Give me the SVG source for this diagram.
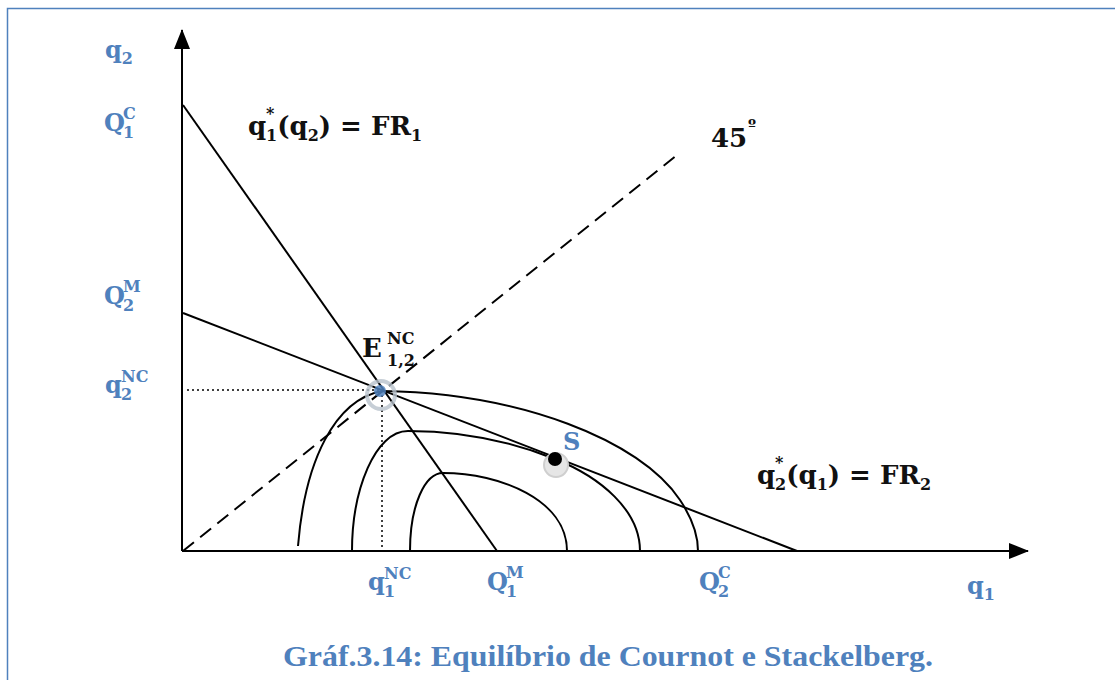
<svg xmlns="http://www.w3.org/2000/svg" width="1115" height="680" viewBox="0 0 1115 680">
<defs>
<style>
.lbl{font-family:"DejaVu Serif","Liberation Serif",serif;font-weight:bold;fill:#4F81BD;font-size:24px}
.blk{font-family:"DejaVu Serif","Liberation Serif",serif;font-weight:bold;fill:#111;font-size:26px}
.sm{font-size:16px}
.ln{stroke:#000;stroke-width:2;fill:none}
.cv{stroke:#000;stroke-width:2;fill:none}
.dot{stroke:#000;stroke-width:1.5;stroke-dasharray:2 3;fill:none}
</style>
<marker id="ah2" viewBox="0 0 20 20" refX="19" refY="10" markerWidth="20" markerHeight="20" markerUnits="userSpaceOnUse" orient="auto">
<path d="M0,2 L20,10 L0,18 z" fill="#000"/>
</marker>
</defs>
<rect width="1115" height="680" fill="#fff"/>
<path d="M7.5,680 V8.5 H1115" stroke="#4F81BD" stroke-width="1.5" fill="none"/>

<g id="connectors">
<line id="axis-y" class="ln" x1="182" y1="551" x2="182" y2="30" marker-end="url(#ah2)" stroke-width="2.5"/>
<line id="axis-x" class="ln" x1="182" y1="551" x2="1028" y2="551" marker-end="url(#ah2)" stroke-width="2.5"/>
<line id="fr1" class="ln" x1="183" y1="105" x2="497" y2="551"/>
<line id="fr2" class="ln" x1="183" y1="313" x2="797" y2="551"/>
<line id="diag45" class="ln" x1="183" y1="551" x2="677" y2="155" stroke-dasharray="14 8"/>
<polyline id="guides" class="dot" points="187,390 382,390 382,551"/>
<path id="iso1" class="cv" d="M298,546 C305,460 335,400 382,391 C520,393 640,440 680,500 C692,518 698,535 698,551"/>
<path id="iso2" class="cv" d="M352,551 C352,490 375,431 408,431 C470,431 520,445 555,459 C600,477 640,510 640,551"/>
<path id="iso3" class="cv" d="M410,551 C410,505 425,473 443,473 C500,473 567,500 567,551"/>
</g>

<g id="node-E">
<circle cx="381" cy="395" r="14" fill="none" stroke="#b8c2cc" stroke-width="4" opacity="0.8"/>
<circle cx="380" cy="391" r="6" fill="#4F81BD" opacity="0.85"/>
<text class="blk" x="362" y="357">E</text>
<text class="blk sm" x="387" y="344">NC</text>
<text class="blk sm" x="387" y="366">1,2</text>
</g>
<g id="node-S">
<circle cx="556" cy="465" r="12" fill="#e6e6e6" stroke="#cfcfcf" stroke-width="2"/>
<circle cx="555" cy="459" r="7" fill="#000"/>
<text class="lbl" x="563" y="450">S</text>
</g>

<g id="labels-axis">
<text class="lbl" x="105" y="58">q<tspan class="sm" dy="6">2</tspan></text>
<text class="lbl" x="104" y="131">Q</text><text class="lbl sm" x="123" y="119">C</text><text class="lbl sm" x="123" y="138">1</text>
<text class="lbl" x="104" y="304">Q</text><text class="lbl sm" x="123" y="292">M</text><text class="lbl sm" x="123" y="311">2</text>
<text class="lbl" x="105" y="393">q</text><text class="lbl sm" x="121" y="382">NC</text><text class="lbl sm" x="121" y="400">2</text>
<text class="lbl" x="368" y="590">q</text><text class="lbl sm" x="384" y="579">NC</text><text class="lbl sm" x="384" y="597">1</text>
<text class="lbl" x="487" y="590">Q</text><text class="lbl sm" x="506" y="578">M</text><text class="lbl sm" x="506" y="597">1</text>
<text class="lbl" x="699" y="590">Q</text><text class="lbl sm" x="718" y="578">C</text><text class="lbl sm" x="718" y="597">2</text>
<text class="lbl" x="967" y="594">q<tspan class="sm" dy="6">1</tspan></text>
</g>

<g id="labels-curves">
<text class="blk" x="248" y="135">q</text>
<text class="blk sm" x="266" y="119">*</text>
<text class="blk" x="266" y="135"><tspan class="sm" dy="6">1</tspan><tspan dy="-6">(q</tspan><tspan class="sm" dy="6">2</tspan><tspan dy="-6">) =  FR</tspan><tspan class="sm" dy="6">1</tspan></text>
<text class="blk" x="757" y="484">q</text>
<text class="blk sm" x="775" y="468">*</text>
<text class="blk" x="775" y="484"><tspan class="sm" dy="6">2</tspan><tspan dy="-6">(q</tspan><tspan class="sm" dy="6">1</tspan><tspan dy="-6">) =  FR</tspan><tspan class="sm" dy="6">2</tspan></text>
<text class="blk" x="711" y="147">45</text><text class="blk sm" x="748" y="131">º</text>
</g>

<text x="608" y="666" text-anchor="middle" font-family="'Liberation Serif', serif" font-weight="bold" font-size="30" fill="#4F81BD" textLength="650" lengthAdjust="spacingAndGlyphs">Gráf.3.14: Equilíbrio de Cournot e Stackelberg.</text>
</svg>
